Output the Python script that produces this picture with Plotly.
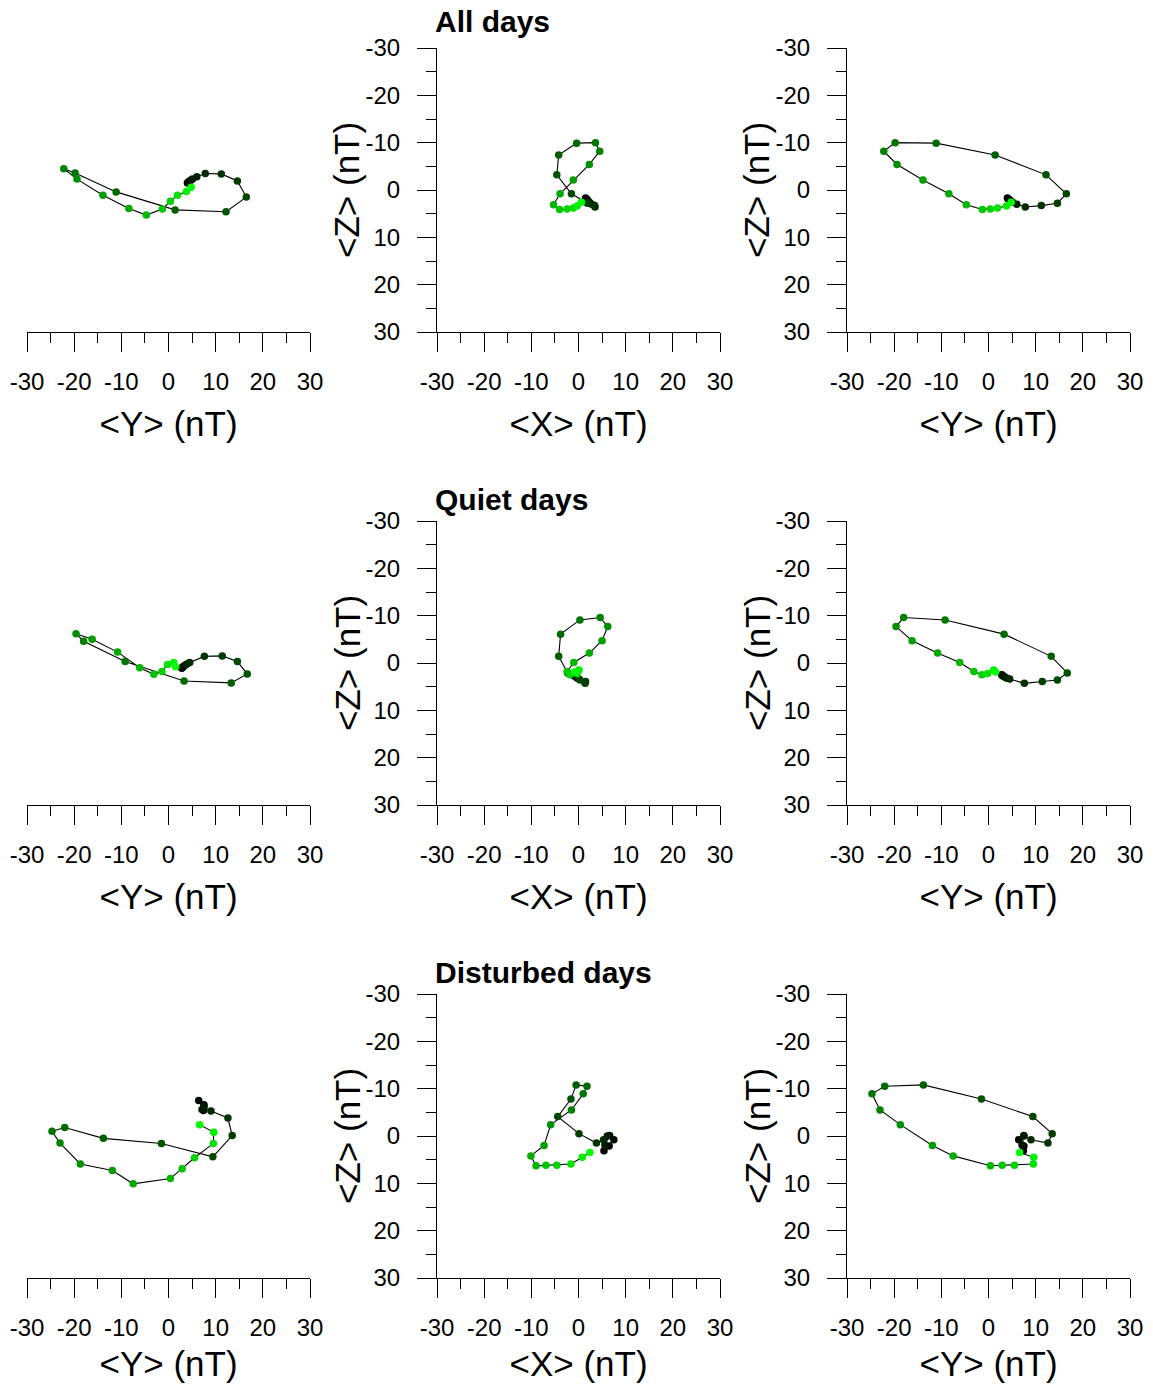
import plotly.graph_objects as go

# ---------------- data (hourly means, nT) ----------------
all_Y = [4.0, 4.2, 4.5, 4.8, 5.1, 6.0, 7.8, 11.2, 14.6, 16.5, 12.2, 1.4,
         -11.1, -19.8, -22.2, -19.4, -13.9, -8.4, -4.7, -1.3, 0.4, 1.9, 3.8, 4.8]
all_X = [1.5, 1.7, 1.9, 2.1, 2.3, 2.8, 3.5, 3.4, 1.9, -1.5, -4.6, -4.2,
         -0.4, 3.6, 4.5, 2.3, -1.1, -3.9, -5.3, -4.0, -2.4, -1.1, -0.3, 0.6]
all_Z = [1.7, 1.9, 2.1, 2.4, 2.6, 3.0, 3.6, 3.3, 2.8, 0.8, -3.2, -7.4,
         -9.9, -10.0, -8.2, -5.4, -2.1, 0.8, 3.1, 4.1, 4.0, 3.8, 3.4, 2.6]

quiet_Y = [2.8, 2.9, 3.0, 3.2, 3.5, 3.9, 4.5, 7.6, 11.4, 14.6, 16.7, 13.3,
           3.3, -9.2, -18.0, -19.6, -16.2, -10.8, -6.1, -3.1, -1.4, -0.2, 1.1, 1.5]
quiet_X = [-1.1, -1.0, -0.9, -0.7, -0.5, -0.2, 0.1, 1.4, 1.5, 0.3, -2.3, -4.2,
           -3.8, 0.3, 4.6, 6.2, 5.0, 2.3, -1.0, -2.4, -1.8, -0.3, 0.1, -0.8]
quiet_Z = [2.5, 2.6, 2.7, 2.8, 3.0, 3.2, 3.4, 4.3, 3.9, 3.6, 2.1, -1.4,
           -6.1, -9.1, -9.6, -7.7, -4.7, -2.1, -0.1, 1.8, 2.5, 2.2, 1.5, 1.9]

dist_Y = [7.4, 7.5, 6.4, 7.5, 7.1, 7.5, 9.0, 12.6, 13.5, 9.4, -1.5, -13.8,
          -22.0, -24.7, -23.0, -18.7, -11.9, -7.5, 0.4, 2.9, 5.5, 9.5, 9.6, 6.6]
dist_X = [5.4, 6.5, 7.5, 6.6, 5.6, 6.1, 5.3, 3.8, 0.1, -4.4, -1.6, -0.5,
          1.8, 1.0, -1.5, -5.9, -7.3, -10.1, -9.0, -6.9, -4.6, -1.6, 0.8, 2.4]
dist_Z = [3.1, 2.1, 0.8, -0.1, 1.9, 0.0, 0.8, 1.5, -0.5, -4.1, -7.8, -10.8,
          -10.5, -8.9, -5.5, -2.4, 2.0, 4.2, 6.3, 6.2, 6.2, 5.9, 4.5, 3.5]

row_titles = ["All days", "Quiet days", "Disturbed days"]
tick_vals = [-30, -20, -10, 0, 10, 20, 30]
tick_text = ["-30", "-20", "-10", "0", "10", "20", "30"]
minor_vals = [-25, -15, -5, 5, 15, 25]

# ---------------- layout geometry (page pixels) ----------------
PAGE_OFF = 8                      # default body margin of the html page
W, H = 1153 - 2 * PAGE_OFF, 1391 - 2 * PAGE_OFF
cols = [(27, 310), (437, 720), (847, 1130)]
rows = [(48, 332), (521, 805), (994, 1278)]
title_y = [21, 499, 972]
ytitle_x = 347
FONT = "Liberation Sans, Arial, sans-serif"
TICK_FS = 24
TITLE_FS = 35


def fx(p):
    return (p - PAGE_OFF) / W


def fy(p):
    return 1 - (p - PAGE_OFF) / H


def col_colors(n):
    out = []
    for i in range(n):
        g = int(round(255 * (i / (n - 1)) ** 1.35))
        out.append(f"rgb(0,{g},0)")
    return out


datasets = [(all_Y, all_X, all_Z), (quiet_Y, quiet_X, quiet_Z), (dist_Y, dist_X, dist_Z)]

fig = go.Figure()
layout = dict(
    width=W, height=H, margin=dict(l=0, r=0, t=0, b=0, autoexpand=False),
    paper_bgcolor="white", plot_bgcolor="white", showlegend=False,
    font=dict(family=FONT, color="black"),
)
annotations = []

for r, (Y, X, Z) in enumerate(datasets):
    colors = col_colors(len(Y))
    panels = [
        (Y, X, "<Y> (nT)", None),
        (X, Z, "<X> (nT)", "<Z> (nT)"),
        (Y, Z, "<Y> (nT)", "<Z> (nT)"),
    ]
    t0, t1 = rows[r]
    for c, (xs, ys, xt, yt) in enumerate(panels):
        n = r * 3 + c + 1
        sfx = "" if n == 1 else str(n)
        fig.add_trace(go.Scatter(
            x=xs, y=ys, mode="lines+markers",
            line=dict(color="black", width=1.1),
            marker=dict(color=colors, size=7.5, line=dict(width=0)),
            xaxis="x" + sfx, yaxis="y" + sfx, hoverinfo="skip",
        ))
        x0, x1 = cols[c]
        layout["xaxis" + sfx] = dict(
            domain=[fx(x0), fx(x1)], range=[-30, 30], anchor="y" + sfx,
            automargin=False,
            tickmode="array", tickvals=tick_vals, ticktext=tick_text,
            ticks="outside", ticklen=19, tickwidth=1, tickcolor="black",
            minor=dict(tickvals=minor_vals, ticks="outside", ticklen=10,
                       tickwidth=1, tickcolor="black", showgrid=False),
            showline=True, linecolor="black", linewidth=1, mirror=False,
            showgrid=False, zeroline=False,
            tickfont=dict(size=TICK_FS, family=FONT, color="black"),
            ticklabelstandoff=9,
            title=dict(text=xt, font=dict(size=TITLE_FS, family=FONT, color="black"), standoff=17),
        )
        ydict = dict(
            domain=[fy(t1), fy(t0)], anchor="x" + sfx,
            showgrid=False, zeroline=False, automargin=False,
        )
        if yt is None:
            ydict.update(range=[-30, 30], visible=False)
        else:
            ydict.update(
                range=[30, -30],
                tickmode="array", tickvals=tick_vals, ticktext=tick_text,
                ticks="outside", ticklen=19, tickwidth=1, tickcolor="black",
                minor=dict(tickvals=minor_vals, ticks="outside", ticklen=10,
                           tickwidth=1, tickcolor="black", showgrid=False),
                showline=True, linecolor="black", linewidth=1, mirror=False,
                tickfont=dict(size=TICK_FS, family=FONT, color="black"),
                ticklabelstandoff=12,
            )
            annotations.append(dict(
                text=yt, xref="paper", yref="paper",
                x=fx(x0 - (cols[1][0] - ytitle_x)), y=fy((t0 + t1) / 2),
                xanchor="center", yanchor="middle", textangle=-90,
                showarrow=False, font=dict(size=TITLE_FS, family=FONT, color="black"),
            ))
        layout["yaxis" + sfx] = ydict

    annotations.append(dict(
        text="<b>" + row_titles[r] + "</b>", xref="paper", yref="paper",
        x=fx(cols[1][0]), y=fy(title_y[r]), xanchor="left", yanchor="middle",
        xshift=-3, borderpad=0,
        showarrow=False, font=dict(size=30, family=FONT, color="black"),
    ))

layout["annotations"] = annotations
fig.update_layout(**layout)
fig.write_html("out.html")
